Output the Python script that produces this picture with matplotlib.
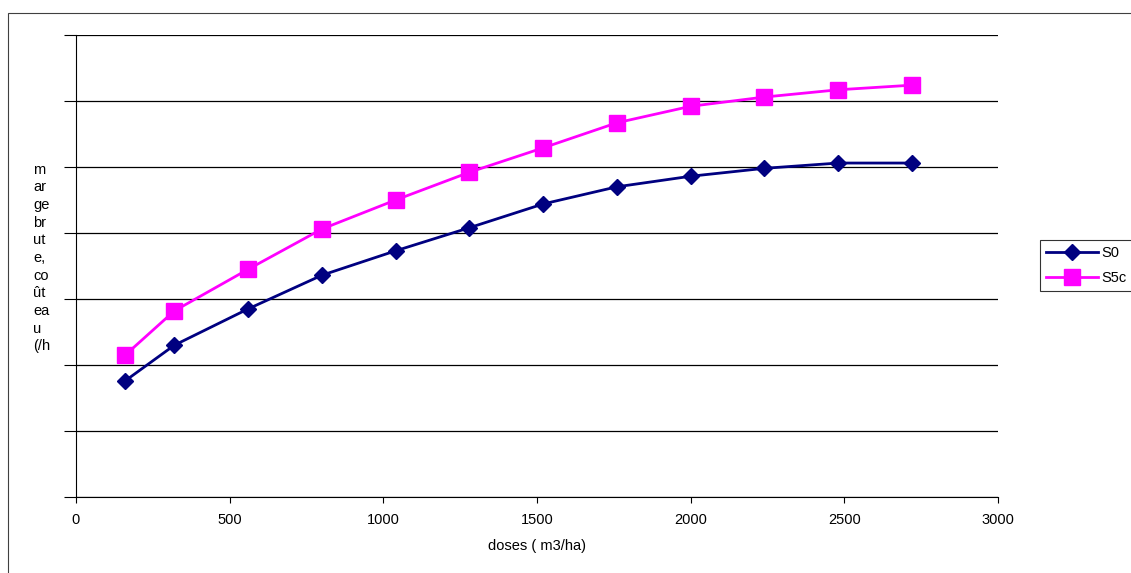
import numpy as np
import matplotlib.pyplot as plt
from matplotlib.patches import Rectangle

doses = [160, 320, 560, 800, 1040, 1280, 1520, 1760, 2000, 2240, 2480, 2720]
s0 = [1.76, 2.30, 2.85, 3.36, 3.73, 4.08, 4.44, 4.70, 4.86, 4.98, 5.06, 5.06]
s5c = [2.15, 2.82, 3.45, 4.06, 4.50, 4.92, 5.29, 5.67, 5.92, 6.06, 6.17, 6.24]
xticks = [0, 500, 1000, 1500, 2000, 2500, 3000]

plt.rcParams['font.family'] = ['Liberation Sans', 'DejaVu Sans']

fig = plt.figure(figsize=(11.31, 5.73), dpi=100)
ax = fig.add_axes([76/1131, 76/573, 922/1131, 462/573])

ax.plot(doses, s0, color='#000080', lw=2, marker='D', ms=8.5, label='S0')
ax.plot(doses, s5c, color='#FF00FF', lw=2, marker='s', ms=12, label='S5c')

ax.set_xlim(0, 3000)
ax.set_ylim(0, 7)
ax.set_xticks(xticks)
ax.set_yticks(np.arange(0, 8))
ax.set_yticklabels([])
ax.tick_params(axis='y', length=8.5, width=0.8, direction='out')
ax.tick_params(axis='x', length=4.5, width=0.8, direction='out', labelsize=10.5, pad=7)
ax.grid(axis='y', color='black', lw=0.9)
ax.set_axisbelow(True)
for s in ['top', 'right']:
    ax.spines[s].set_visible(False)
for s in ['left', 'bottom']:
    ax.spines[s].set_linewidth(0.8)

ax.set_xlabel('doses ( m3/ha)', fontsize=10.5, labelpad=9)

# label vertical, coupé comme dans l'original
ylab = 'm\nar\nge\nbr\nut\ne,\nco\nût\nea\nu\n(/h'
fig.text(33/1131, 1 - 258/573, ylab, fontsize=10.5, ha='left', va='center', linespacing=1.33)

leg = ax.legend(loc='upper left', bbox_to_anchor=(1040/1131, 1 - 240/573),
                bbox_transform=fig.transFigure, fontsize=10.5, frameon=True,
                fancybox=False, edgecolor='black', handlelength=3.6,
                borderpad=0.4, labelspacing=0.8, handletextpad=0.2,
                borderaxespad=0)
leg.get_frame().set_linewidth(0.8)

fig.patches.append(Rectangle((8/1131, -0.05), 1.2, 1 - 13/573 + 0.05,
                             transform=fig.transFigure, fill=False,
                             edgecolor='#404040', lw=0.8))

fig.savefig('out.png', dpi=100)
